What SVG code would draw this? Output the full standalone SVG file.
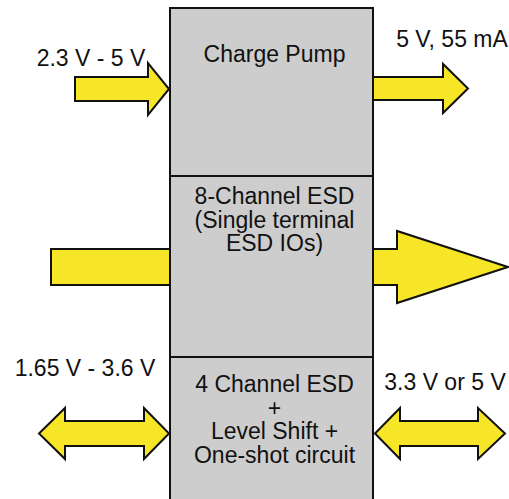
<svg xmlns="http://www.w3.org/2000/svg" width="509" height="499" viewBox="0 0 509 499">
<style>
.box{fill:#cdcdcd;stroke:#111;stroke-width:2}
.arr{fill:#f6e627;stroke:#111;stroke-width:2;stroke-linejoin:miter}
text{font-family:"Liberation Sans",Arial,sans-serif;font-size:23px;fill:#111;text-anchor:middle}
</style>
<rect width="509" height="499" fill="#fff"/>
<g id="charge-pump">
<rect class="box" x="170" y="8" width="203" height="168"/>
<text x="274.5" y="62">Charge Pump</text>
</g>
<g id="esd-8ch">
<rect class="box" x="170" y="176" width="203" height="181"/>
<text x="274.5" y="204">8-Channel ESD</text>
<text x="274.5" y="227.5">(Single terminal</text>
<text x="274.5" y="251">ESD IOs)</text>
</g>
<g id="esd-4ch">
<rect class="box" x="170" y="357" width="203" height="150"/>
<text x="274.5" y="392">4 Channel ESD</text>
<text x="274.5" y="415.5">+</text>
<text x="274.5" y="439">Level Shift +</text>
<text x="274.5" y="462.5">One-shot circuit</text>
</g>
<g id="connectors">
<path class="arr" d="M75,77 L148,77 L148,63 L169,89 L148,115 L148,101 L75,101 Z"/>
<path class="arr" d="M373,77 L443,77 L443,64 L468,88.5 L443,113 L443,100 L373,100 Z"/>
<rect class="arr" x="51" y="249" width="119" height="36"/>
<path class="arr" d="M373,249 L397,249 L397,231 L508,267 L397,303 L397,285 L373,285 Z"/>
<path class="arr" d="M39,433.5 L65,408 L65,421 L144,421 L144,408 L169,433.5 L144,459 L144,446 L65,446 L65,459 Z"/>
<path class="arr" d="M375,433.5 L400,408 L400,421 L478,421 L478,408 L505,433.5 L478,459 L478,446 L400,446 L400,459 Z"/>
</g>
<g id="labels">
<text x="91" y="66">2.3 V - 5 V</text>
<text x="452" y="47">5 V, 55 mA</text>
<text x="85" y="376">1.65 V - 3.6 V</text>
<text x="445" y="390">3.3 V or 5 V</text>
</g>
</svg>
